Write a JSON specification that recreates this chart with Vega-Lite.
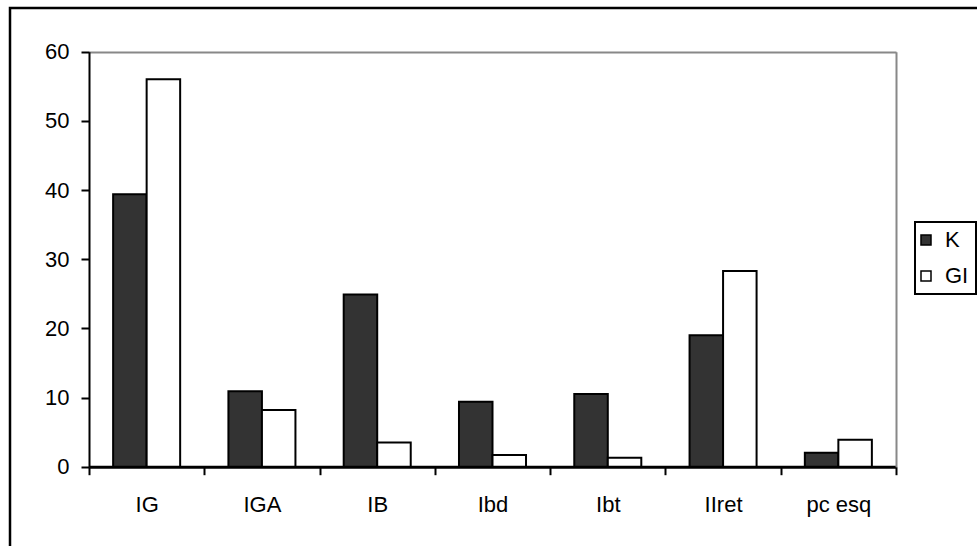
{
  "$schema": "https://vega.github.io/schema/vega-lite/v6.json",
  "autosize": "none",
  "padding": {"left": 10, "top": 8, "right": 0, "bottom": 0},
  "width": 975,
  "height": 545,
  "background": "white",
  "data": {
    "values": [
      {"cat": "IG", "series": "K", "value": 39.4},
      {"cat": "IG", "series": "GI", "value": 56.0},
      {"cat": "IGA", "series": "K", "value": 10.9},
      {"cat": "IGA", "series": "GI", "value": 8.2},
      {"cat": "IB", "series": "K", "value": 24.9},
      {"cat": "IB", "series": "GI", "value": 3.5},
      {"cat": "Ibd", "series": "K", "value": 9.4},
      {"cat": "Ibd", "series": "GI", "value": 1.7},
      {"cat": "Ibt", "series": "K", "value": 10.5},
      {"cat": "Ibt", "series": "GI", "value": 1.3},
      {"cat": "IIret", "series": "K", "value": 19.0},
      {"cat": "IIret", "series": "GI", "value": 28.3},
      {"cat": "pc esq", "series": "K", "value": 2.0},
      {"cat": "pc esq", "series": "GI", "value": 3.9}
    ]
  },
  "encoding": {
    "x": {
      "field": "cat",
      "type": "nominal",
      "sort": ["IG", "IGA", "IB", "Ibd", "Ibt", "IIret", "pc esq"],
      "scale": {"range": [79, 886], "paddingInner": 0, "paddingOuter": 0},
      "axis": {
        "title": null,
        "orient": "bottom",
        "offset": -86.3,
        "labelAngle": 0,
        "labelFontSize": 22,
        "labelFont": "Liberation Sans",
        "labelColor": "black",
        "labelPadding": 20,
        "tickBand": "extent",
        "tickSize": 8,
        "tickWidth": 2,
        "tickColor": "black",
        "domainColor": "black",
        "domainWidth": 3,
        "grid": false
      }
    },
    "xOffset": {
      "field": "series",
      "type": "nominal",
      "sort": ["K", "GI"],
      "scale": {"domain": ["K", "GI"], "paddingInner": 0, "paddingOuter": 0.72}
    },
    "fill": {
      "field": "series",
      "type": "nominal",
      "sort": ["K", "GI"],
      "scale": {"domain": ["K", "GI"], "range": ["#333333", "#ffffff"]},
      "legend": {
        "title": null,
        "orient": "none",
        "legendX": 905,
        "legendY": 214,
        "symbolType": "square",
        "symbolSize": 100,
        "symbolOffset": -7,
        "symbolStrokeColor": "black",
        "symbolStrokeWidth": 1.5,
        "labelFontSize": 22,
        "labelFont": "Liberation Sans",
        "labelColor": "black",
        "labelOffset": 8,
        "padding": 7,
        "rowPadding": 14,
        "strokeColor": "black",
        "fillColor": "white"
      }
    }
  },
  "layer": [
    {
      "transform": [{"filter": "datum.series === 'K'"}],
      "mark": {"type": "bar", "stroke": "black", "strokeWidth": 2},
      "encoding": {
        "y": {
          "field": "value",
          "type": "quantitative",
          "scale": {"domain": [0, 60], "range": [458.7, 43.7], "nice": false, "zero": true},
          "axis": {
            "title": null,
            "orient": "left",
            "offset": -79,
            "values": [0, 10, 20, 30, 40, 50, 60],
            "labelFontSize": 22,
            "labelFont": "Liberation Sans",
            "labelColor": "black",
            "labelPadding": 12,
            "tickSize": 8,
            "tickWidth": 2,
            "tickColor": "black",
            "domainColor": "black",
            "domainWidth": 2,
            "grid": true,
            "gridColor": {"condition": {"test": "datum.value === 60", "value": "#888888"}, "value": "transparent"},
            "gridWidth": 2
          }
        }
      }
    },
    {
      "transform": [{"filter": "datum.series === 'GI'"}],
      "mark": {"type": "bar", "stroke": "black", "strokeWidth": 2},
      "encoding": {
        "y": {
          "field": "value",
          "type": "quantitative",
          "axis": {
            "title": null,
            "orient": "right",
            "offset": -89,
            "labels": false,
            "ticks": false,
            "grid": false,
            "domainColor": "#888888",
            "domainWidth": 2
          }
        }
      }
    }
  ],
  "resolve": {"axis": {"y": "independent"}},
  "config": {
    "view": {"stroke": "black", "strokeWidth": 2.5},
    "legend": {"strokeWidth": 2},
    "axis": {"labelFont": "Liberation Sans"}
  }
}
